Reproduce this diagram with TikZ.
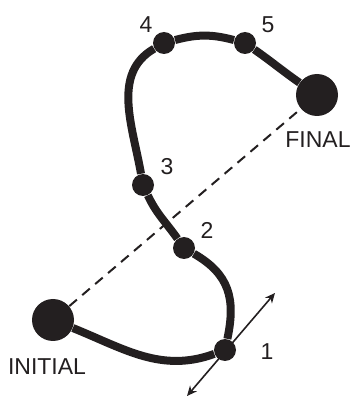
\documentclass[tikz,border=0pt]{standalone}
\usepackage{fontspec}
\setmainfont{Liberation Sans}
\usetikzlibrary{arrows.meta}
\definecolor{inkblack}{HTML}{231F20}

\begin{document}
\begin{tikzpicture}[x=0.5pt,y=0.5pt,
  bigdot/.style={circle,fill=inkblack,inner sep=0pt,minimum size=21pt},
  smalldot/.style={circle,fill=inkblack,inner sep=0pt,minimum size=11pt},
  lbl/.style={text=inkblack,font=\fontsize{11.5}{13}\selectfont,inner sep=0pt},
  trajectory/.style={draw=inkblack,line width=4pt},
  chord/.style={draw=inkblack,line width=1pt,dash pattern=on 5pt off 3.5pt},
  tangent/.style={draw=inkblack,line width=0.8pt,{Stealth[length=5pt,width=4.5pt]}-{Stealth[length=5pt,width=4.5pt]}}]
\useasboundingbox (0,0) rectangle (353,397);

% End points
\node[bigdot] (init) at (53,77) {};
\node[bigdot] (final) at (317,302) {};

% Points along the path
\node[smalldot] (p1) at (225,47) {};
\node[smalldot] (p2) at (184,149) {};
\node[smalldot] (p3) at (143,212) {};
\node[smalldot] (p4) at (164,354) {};
\node[smalldot] (p5) at (245,354) {};

% Labels
\node[lbl] (initlbl) at (47,30) {INITIAL};
\node[lbl] (finallbl) at (318,257) {FINAL};
\node[lbl] (lbl1) at (267,45) {1};
\node[lbl] (lbl2) at (207,167) {2};
\node[lbl] (lbl3) at (167,230) {3};
\node[lbl] (lbl4) at (146,372) {4};
\node[lbl] (lbl5) at (268,372) {5};

% Straight line between the end points
\draw[chord] (init) -- (final);

% The path itself
\draw[trajectory] (init) to[out=-22,in=200] (p1)
  to[out=78,in=-30,looseness=1.15] (p2)
  to[out=125,in=-65] (p3)
  to[out=100,in=210] (p4)
  to[out=15,in=165] (p5)
  to[out=-35,in=145] (final);

% Tangent at point 1
\coordinate (tanlo) at (187,1);
\coordinate (tanhi) at (275,104);
\draw[tangent] (tanlo) -- (tanhi);

\end{tikzpicture}
\end{document}
